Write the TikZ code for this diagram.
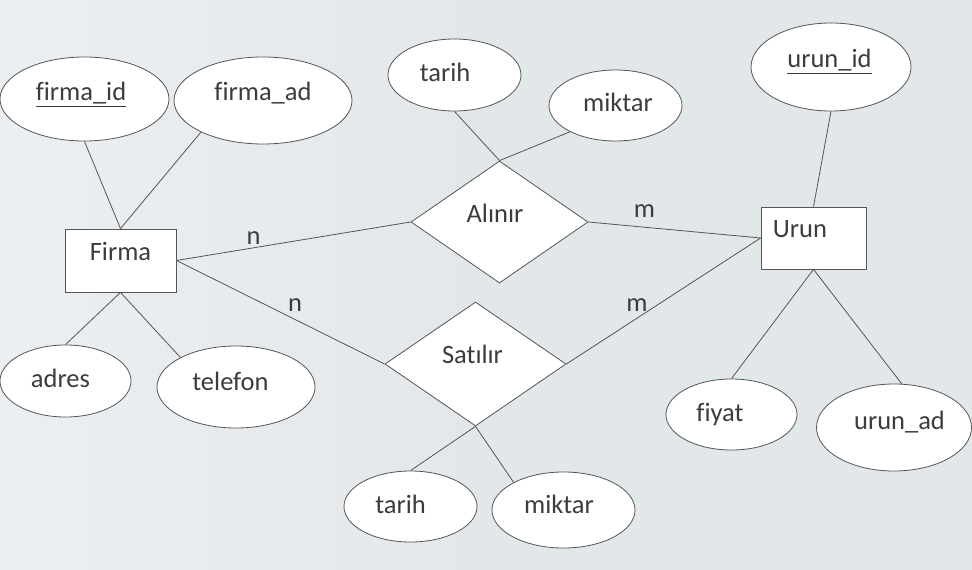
\documentclass[tikz,border=0pt]{standalone}
\usepackage{fontspec}
\setmainfont{Carlito}[Ligatures={NoCommon}]
\usetikzlibrary{shapes.geometric}
\definecolor{bgmain}{HTML}{E2E7EA}
\definecolor{bgleft}{HTML}{ECEFF1}
\definecolor{txt}{HTML}{3C3C3C}
\definecolor{ln}{HTML}{555555}
\tikzset{
  attr/.style={ellipse, draw=ln, line width=0.8bp, fill=white, inner sep=0pt},
  entity/.style={rectangle, draw=ln, line width=0.8bp, fill=white, inner sep=0pt},
  rel/.style={diamond, draw=ln, line width=0.8bp, fill=white, inner sep=0pt},
  lbl/.style={font=\fontsize{26.5bp}{32bp}\selectfont, text=txt, text height=20bp, text depth=7bp, inner sep=0pt},
  card/.style={font=\fontsize{26.5bp}{32bp}\selectfont, text=txt, inner sep=0pt},
  conn/.style={draw=ln, line width=0.8bp}
}
\begin{document}
\begin{tikzpicture}[x=1bp,y=-1bp]
\useasboundingbox (0,0) rectangle (972,570);
\shade[left color=bgleft, right color=bgmain, middle color=bgmain] (0,0) rectangle (972,570);

% entities
\node[entity, minimum width=111bp, minimum height=63bp,
  label={[lbl, yshift=6.5bp]center:Firma}] (firma) at (120.5,260.5) {};
\node[entity, minimum width=105bp, minimum height=62bp,
  label={[lbl, xshift=-13.5bp, yshift=6.5bp]center:Urun}] (urun) at (813.5,238) {};

% relationships
\node[rel, minimum width=177bp, minimum height=122bp,
  label={[lbl, xshift=-4.5bp, yshift=5.5bp]center:Alınır}] (alinir) at (499.5,222) {};
\node[rel, minimum width=181bp, minimum height=124bp,
  label={[lbl, xshift=-3bp, yshift=7.5bp]center:Satılır}] (satilir) at (475.5,364) {};

% attributes of Firma
\node[attr, minimum width=169bp, minimum height=84bp,
  label={[lbl, xshift=-3.5bp, yshift=4.5bp]center:\underline{firma\_id}}] (firmaid) at (84.5,99) {};
\node[attr, minimum width=178bp, minimum height=87bp,
  label={[lbl, yshift=6bp]center:firma\_ad}] (firmaad) at (263,100.5) {};
\node[attr, minimum width=131bp, minimum height=72bp,
  label={[lbl, xshift=-5bp, yshift=0.5bp]center:adres}] (adres) at (65.5,381) {};
\node[attr, minimum width=158bp, minimum height=82bp,
  label={[lbl, xshift=-5.5bp, yshift=3.5bp]center:telefon}] (telefon) at (236,387) {};

% attributes of Alinir
\node[attr, minimum width=133bp, minimum height=72bp,
  label={[lbl, xshift=-9.5bp, yshift=-0.5bp]center:tarih}] (tarih1) at (454.5,75) {};
\node[attr, minimum width=133bp, minimum height=71bp,
  label={[lbl, xshift=2.5bp]center:miktar}] (miktar1) at (615.5,105.5) {};

% attributes of Satilir
\node[attr, minimum width=133bp, minimum height=71bp,
  label={[lbl, xshift=-10bp]center:tarih}] (tarih2) at (410.5,506.5) {};
\node[attr, minimum width=143bp, minimum height=76bp,
  label={[lbl, xshift=-4.5bp, yshift=3.5bp]center:miktar}] (miktar2) at (563.5,510) {};

% attributes of Urun
\node[attr, minimum width=160bp, minimum height=88bp,
  label={[lbl, xshift=-1.5bp, yshift=5.5bp]center:\underline{urun\_id}}] (urunid) at (831,67) {};
\node[attr, minimum width=131bp, minimum height=71bp,
  label={[lbl, xshift=-11.5bp]center:fiyat}] (fiyat) at (731.5,414.5) {};
\node[attr, minimum width=155bp, minimum height=87bp,
  label={[lbl, xshift=5.5bp, yshift=5bp]center:urun\_ad}] (urunad) at (894,427.5) {};

% cardinalities
\node[card] (n1) at (253.5,238) {n};
\node[card] (m1) at (644.5,211) {m};
\node[card] (n2) at (295,305.5) {n};
\node[card] (m2) at (637,305.5) {m};

% connectors
\draw[conn] (firmaid.south) -- (firma.north);
\draw[conn] (firmaad.207) -- (firma.north);
\draw[conn] (firma.south) -- (adres.north);
\draw[conn] (firma.south) -- (telefon.152.6);
\draw[conn] (firma.east) -- (alinir.west);
\draw[conn] (firma.east) -- (satilir.west);
\draw[conn] (alinir.east) -- (urun.west);
\draw[conn] (satilir.east) -- (urun.west);
\draw[conn] (tarih1.south) -- (alinir.north);
\draw[conn] (miktar1.210) -- (alinir.north);
\draw[conn] (satilir.south) -- (tarih2.north);
\draw[conn] (satilir.south) -- (miktar2.151.5);
\draw[conn] (urunid.south) -- (urun.north);
\draw[conn] (urun.south) -- (fiyat.north);
\draw[conn] (urun.south) -- (urunad.80);
\end{tikzpicture}
\end{document}
